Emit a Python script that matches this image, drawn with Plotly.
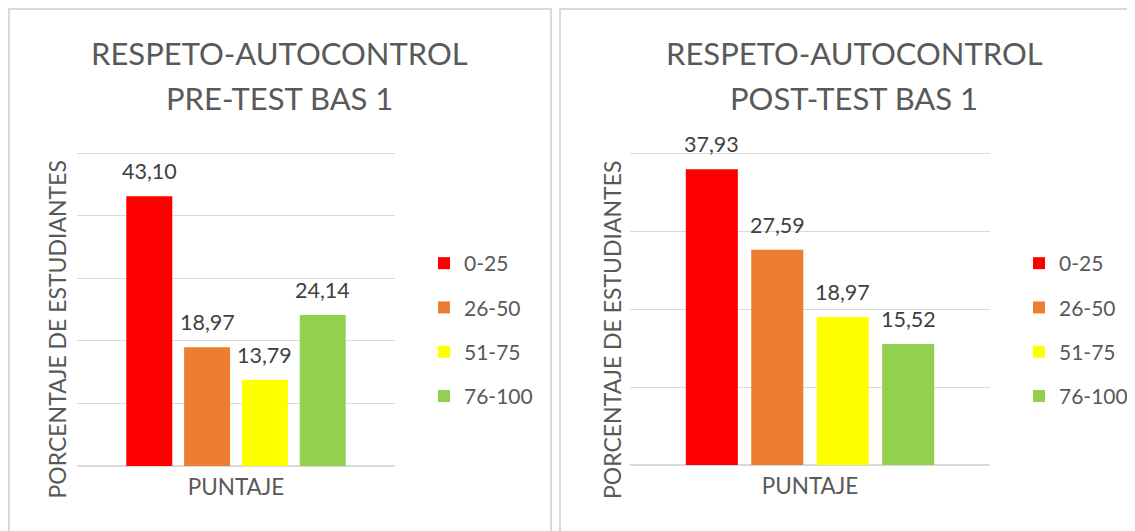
import plotly.graph_objects as go

# ---- data ----
categories = ["0-25", "26-50", "51-75", "76-100"]
pre_values = [43.10, 18.97, 13.79, 24.14]
post_values = [37.93, 27.59, 18.97, 15.52]
colors = ["#FF0000", "#ED7D31", "#FFFF00", "#92D050"]
title_line1 = ["RESPETO-AUTOCONTROL", "RESPETO-AUTOCONTROL"]
title_line2 = ["PRE-TEST BAS 1", "POST-TEST BAS 1"]
y_title = "PORCENTAJE DE ESTUDIANTES"
x_title = "PUNTAJE"

# page coordinates (the browser body adds an 8px margin)
OFF = 8
W, H = 1135 - OFF, 531 - OFF
FONT = "Lato"
GRAY = "#595959"
DARK = "#404040"
GRID = "#D9D9D9"


def px(x):
    return (x - OFF) / W


def py(y):
    return 1 - (y - OFF) / H


fig = go.Figure()

# y ranges are extended a hair past the last gridline so it is drawn
panels = [
    dict(values=pre_values, xa="x", ya="y", legend="legend", grp="L",
         xdom=[px(77), px(395)], ydom=[py(466), py(153 - 0.3 * 313 / 50)], yrange=[0, 50.3],
         title_x=279, ytitle_x=56.5),
    dict(values=post_values, xa="x2", ya="y2", legend="legend2", grp="R",
         xdom=[px(630), px(990)], ydom=[py(465), py(153 - 0.3 * 312 / 40)], yrange=[0, 40.3],
         title_x=854, ytitle_x=612),
]

annotations = []
for k, p in enumerate(panels):
    for i, (cat, val, col) in enumerate(zip(categories, p["values"], colors)):
        fig.add_trace(go.Bar(
            x=[cat], y=[val], name=cat, marker=dict(color=col, line=dict(width=0)),
            xaxis=p["xa"], yaxis=p["ya"], legend=p["legend"],
            legendgroup=p["grp"] + str(i), hoverinfo="skip",
        ))
        annotations.append(dict(
            x=cat, y=val, xref=p["xa"], yref=p["ya"], text=f"{val:.2f}".replace(".", ","),
            showarrow=False, yanchor="middle", yshift=25,
            font=dict(family=FONT, size=21.5, color=DARK),
        ))
    for txt, yy in ((title_line1[k], 52.5), (title_line2[k], 98)):
        annotations.append(dict(
            x=px(p["title_x"]), y=py(yy), xref="paper", yref="paper",
            text=txt, showarrow=False, xanchor="center", yanchor="middle",
            font=dict(family=FONT, size=31, color=GRAY),
        ))
    annotations.append(dict(
        x=px(p["ytitle_x"]), y=py(330), xref="paper", yref="paper",
        text=y_title, textangle=-90, showarrow=False, xanchor="center", yanchor="middle",
        font=dict(family=FONT, size=23, color=GRAY),
    ))

axis_common_x = dict(type="category", categoryorder="array", categoryarray=categories,
                     range=[-1.25, 4.25], showticklabels=False, showgrid=False,
                     zeroline=False, showline=False, ticks="", fixedrange=True,
                     title=dict(text=x_title, font=dict(family=FONT, size=22.5, color=GRAY), standoff=13))
axis_common_y = dict(showticklabels=False, showgrid=True, gridcolor=GRID, gridwidth=1.3,
                     dtick=10, zeroline=True, zerolinecolor=GRID, zerolinewidth=1.6,
                     showline=False, ticks="", fixedrange=True)

legend_common = dict(font=dict(family=FONT, size=21, color=GRAY), tracegroupgap=14,
                     xanchor="left", yanchor="top", bgcolor="rgba(0,0,0,0)", borderwidth=0)

fig.update_layout(
    width=W, height=H, margin=dict(l=0, r=0, t=0, b=0),
    paper_bgcolor="white", plot_bgcolor="white",
    separators=",.", barmode="overlay", bargap=0.205,
    showlegend=True,
    xaxis=dict(domain=panels[0]["xdom"], anchor="y", **axis_common_x),
    yaxis=dict(domain=panels[0]["ydom"], anchor="x", range=panels[0]["yrange"], **axis_common_y),
    xaxis2=dict(domain=panels[1]["xdom"], anchor="y2", **axis_common_x),
    yaxis2=dict(domain=panels[1]["ydom"], anchor="x2", range=panels[1]["yrange"], **axis_common_y),
    legend=dict(x=px(424), y=py(243), **legend_common),
    legend2=dict(x=px(1019), y=py(243), **legend_common),
    annotations=annotations,
    shapes=[
        dict(type="rect", xref="paper", yref="paper", x0=px(9), x1=px(551), y0=py(545), y1=py(9),
             line=dict(color=GRID, width=2), layer="below"),
        dict(type="rect", xref="paper", yref="paper", x0=px(560), x1=px(1150), y0=py(545), y1=py(9),
             line=dict(color=GRID, width=2), layer="below"),
    ],
)

fig.write_html("out.html")
